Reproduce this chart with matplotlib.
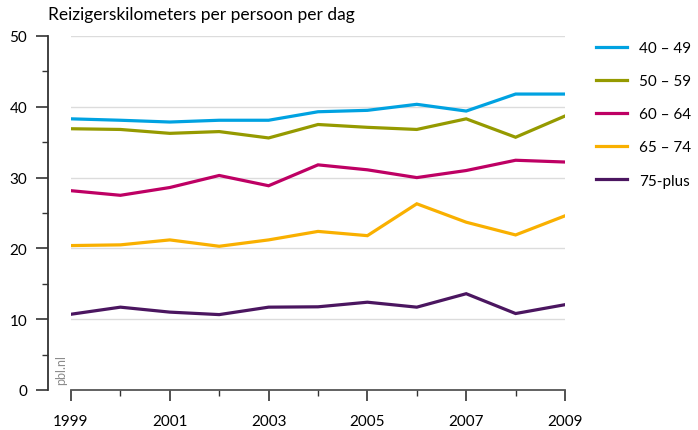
import matplotlib
matplotlib.use("Agg")
import matplotlib.pyplot as plt
from matplotlib.ticker import MultipleLocator

plt.rcParams['font.family'] = ['Lato', 'DejaVu Sans']

years = [1999, 2000, 2001, 2002, 2003, 2004, 2005, 2006, 2007, 2008, 2009]
labels = ["40 – 49", "50 – 59", "60 – 64", "65 – 74", "75-plus"]
v40_49 = [38.3, 38.1, 37.85, 38.1, 38.1, 39.3, 39.5, 40.35, 39.4, 41.8, 41.8]
v50_59 = [36.9, 36.8, 36.25, 36.5, 35.6, 37.5, 37.1, 36.8, 38.3, 35.7, 38.7]
v60_64 = [28.15, 27.5, 28.6, 30.3, 28.85, 31.8, 31.1, 30.0, 31.0, 32.45, 32.2]
v65_74 = [20.4, 20.5, 21.2, 20.3, 21.2, 22.4, 21.8, 26.3, 23.7, 21.9, 24.6]
v75_plus = [10.7, 11.7, 11.0, 10.65, 11.7, 11.75, 12.4, 11.7, 13.6, 10.8, 12.05]
series = [v40_49, v50_59, v60_64, v65_74, v75_plus]
colors = ["#00a2e1", "#959a00", "#be0064", "#f9b000", "#4b1660"]
title = "Reizigerskilometers per persoon per dag"

W, H = 698, 431
fig = plt.figure(figsize=(W / 100, H / 100), dpi=100)
ax = fig.add_axes([71 / W, 40 / H, (565 - 71) / W, (391 - 37) / H])

for vals, lab, c in zip(series, labels, colors):
    ax.plot(years, vals, color=c, lw=2.3, label=lab, solid_joinstyle='miter')

ax.set_xlim(1999, 2009)
ax.set_ylim(0, 50)
for y in [10, 20, 30, 40, 50]:
    ax.axhline(y, color="#dcdcdc", lw=1.0, zorder=0)

ax.spines['top'].set_visible(False)
ax.spines['right'].set_visible(False)
ax.spines['left'].set_position(('outward', 16.5))
ax.spines['left'].set_color('#333333')
ax.spines['bottom'].set_color('#555555')
ax.spines['left'].set_linewidth(1.3)
ax.spines['bottom'].set_linewidth(1.3)

ax.xaxis.set_minor_locator(MultipleLocator(1))
ax.set_xticks([1999, 2001, 2003, 2005, 2007, 2009])
ax.yaxis.set_major_locator(MultipleLocator(10))
ax.yaxis.set_minor_locator(MultipleLocator(5))
ax.tick_params(axis='both', which='major', labelsize=11, colors='#333333', labelcolor='black')
ax.tick_params(axis='x', which='major', length=8, width=1.2, pad=9)
ax.tick_params(axis='x', which='minor', length=4, width=1.0, color='#333333')
ax.tick_params(axis='y', which='major', length=9, width=1.2, pad=6)
ax.tick_params(axis='y', which='minor', length=4, width=1.0, color='#333333')

fig.text(48 / W, 1 - 15 / H, title, fontsize=12.5, ha='left', va='center')
fig.text(61 / W, 1 - 370 / H, "pbl.nl", fontsize=9, color='#8c8c8c', rotation=90,
         ha='center', va='center')

leg = fig.legend(loc='upper left', bbox_to_anchor=(590 / W, 1 - 36 / H), frameon=False,
                 fontsize=11, handlelength=2.0, handletextpad=0.8, labelspacing=1.25,
                 borderaxespad=0)

fig.savefig("out.png", dpi=100)
